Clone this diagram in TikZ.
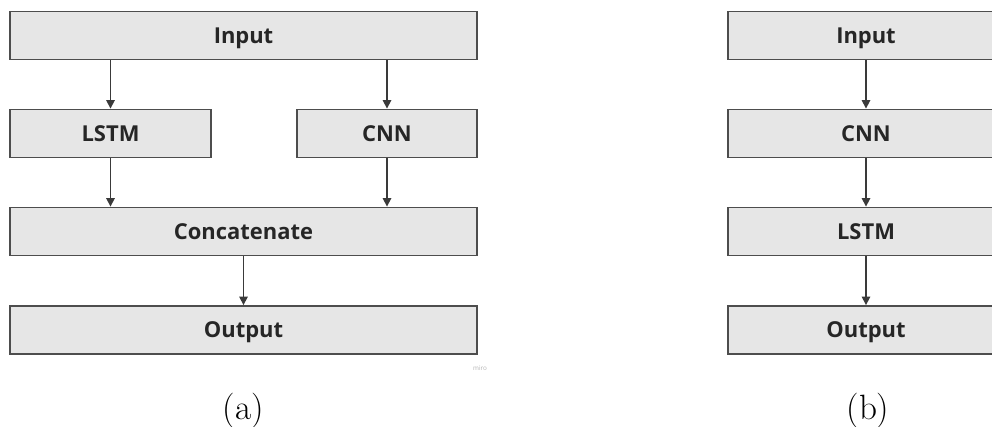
\documentclass[tikz,border=0pt]{standalone}
\usepackage{fontspec}
\newfontfamily\blockfont{Open Sans}
\usepackage{tikz}
\usetikzlibrary{arrows.meta}

\definecolor{blockfill}{HTML}{E6E6E6}
\definecolor{blockline}{HTML}{4D4D4D}
\definecolor{arrowline}{HTML}{3A3A3A}

\begin{document}
\begin{tikzpicture}[x=0.025cm, y=-0.025cm,
    block/.style={draw=blockline, fill=blockfill, line width=1.3pt, minimum height=1.2cm,
                  inner sep=0pt, text height=11.1pt, text depth=0pt,
                  font=\blockfont\bfseries\fontsize{15.6}{18}\selectfont, text=black!85},
    flow/.style={draw=arrowline, line width=1.1pt, -{Triangle[length=6pt,width=6pt]}}]
                    \useasboundingbox (0, 0) rectangle (992, 427);
                    % (a) two branches
                    \node[block, minimum width=11.675cm] (in) at (243.5, 35.5) {Input};
                    \node[block, minimum width=5.025cm] (lstm) at (110.5, 133.5) {LSTM};
                    \node[block, minimum width=4.5cm] (cnn) at (387, 133.5) {CNN};
                    \node[block, minimum width=11.675cm] (cat) at (243.5, 231.5) {Concatenate};
                    \node[block, minimum width=11.675cm] (out) at (243.5, 330) {Output};
                    \node[text=black!30, font=\blockfont\fontsize{4.5}{5}\selectfont] (miro) at (480, 368) {miro};
                    \node[font=\fontsize{25}{28}\selectfont] (capa) at (243.5, 411) {(a)};
                    \draw[flow] (in.south -| lstm.north) -- (lstm.north);
                    \draw[flow] (in.south -| cnn.north) -- (cnn.north);
                    \draw[flow] (lstm.south) -- (lstm.south |- cat.north);
                    \draw[flow] (cnn.south) -- (cnn.south |- cat.north);
                    \draw[flow] (cat.south) -- (out.north);
                    % (b) one chain
                    \node[block, minimum width=6.9cm] (inb) at (866, 35.5) {Input};
                    \node[block, minimum width=6.9cm] (cnnb) at (866, 133.5) {CNN};
                    \node[block, minimum width=6.9cm] (lstmb) at (866, 231.5) {LSTM};
                    \node[block, minimum width=6.9cm] (outb) at (866, 330) {Output};
                    \node[font=\fontsize{25}{28}\selectfont] (capb) at (868, 411) {(b)};
                    \draw[flow] (inb) -- (cnnb);
                    \draw[flow] (cnnb) -- (lstmb);
                    \draw[flow] (lstmb) -- (outb);
                \end{tikzpicture}
\end{document}
